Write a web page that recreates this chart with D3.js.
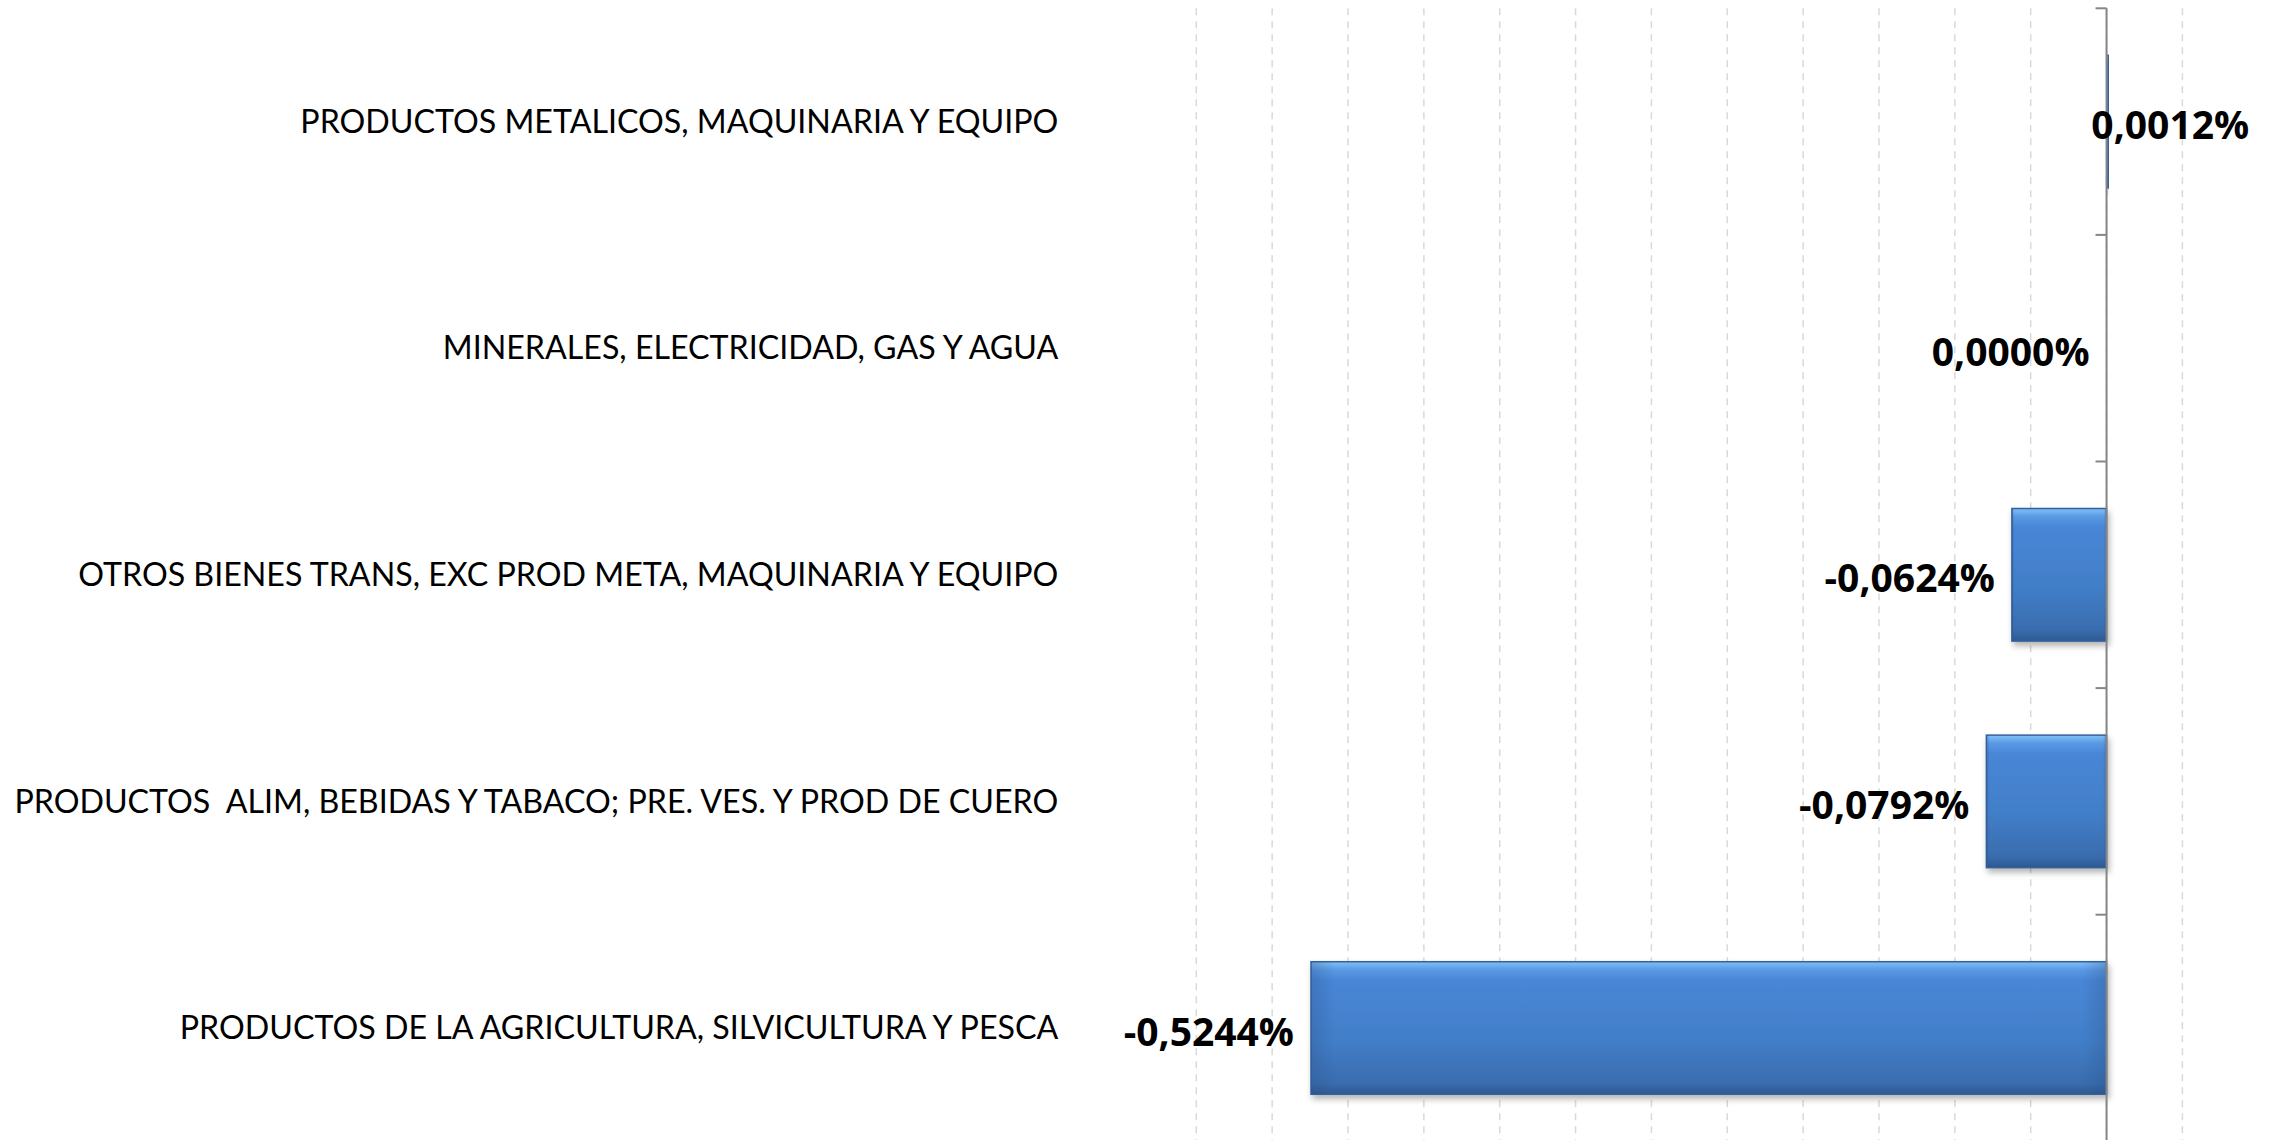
<!DOCTYPE html>
<html>
<head>
<meta charset="utf-8">
<script src="https://cdn.jsdelivr.net/npm/d3@7"></script>
<style>
  body { margin: 0; background: #fff; }
  svg { display: block; }
</style>
</head>
<body>
<svg width="2270" height="1140"></svg>
<script>
// categories top to bottom
var categories = [
    "PRODUCTOS METALICOS, MAQUINARIA Y EQUIPO",
    "MINERALES, ELECTRICIDAD, GAS Y AGUA",
    "OTROS BIENES TRANS, EXC PROD META, MAQUINARIA Y EQUIPO",
    "PRODUCTOS  ALIM, BEBIDAS Y TABACO; PRE. VES. Y PROD DE CUERO",
    "PRODUCTOS DE LA AGRICULTURA, SILVICULTURA Y PESCA"
];
var values = [0.0012, 0.0000, -0.0624, -0.0792, -0.5244];
var labels = ["0,0012%", "0,0000%", "-0,0624%", "-0,0792%", "-0,5244%"];
var x_domain = [-0.6, 0.05];
var x_step = 0.05;

var data = categories.map(function(c, i) {
    return {cat: c, value: values[i], label: labels[i]};
});

var svg = d3.select("svg");
var margin = {top: 8.3, right: 87.6, bottom: -1.3, left: 1196.3};
var width = svg.attr("width") - margin.left - margin.right;
var height = svg.attr("height") - margin.top - margin.bottom;

var defs = svg.append("defs");
var grad = defs.append("linearGradient")
    .attr("id", "barfill")
    .attr("x1", 0).attr("y1", 0).attr("x2", 0).attr("y2", 1);
grad.append("stop").attr("offset", "0%").attr("stop-color", "#82c0f8");
grad.append("stop").attr("offset", "6%").attr("stop-color", "#5a9ae4");
grad.append("stop").attr("offset", "14%").attr("stop-color", "#4886d6");
grad.append("stop").attr("offset", "60%").attr("stop-color", "#427ec8");
grad.append("stop").attr("offset", "92%").attr("stop-color", "#396cae");
grad.append("stop").attr("offset", "100%").attr("stop-color", "#2d5890");

var side = defs.append("linearGradient")
    .attr("id", "barside")
    .attr("x1", 0).attr("y1", 0).attr("x2", 1).attr("y2", 0);
side.append("stop").attr("offset", "0%").attr("stop-color", "#2a5088").attr("stop-opacity", 0.3);
side.append("stop").attr("offset", "3%").attr("stop-color", "#2a5088").attr("stop-opacity", 0);
side.append("stop").attr("offset", "97%").attr("stop-color", "#2a5088").attr("stop-opacity", 0);
side.append("stop").attr("offset", "100%").attr("stop-color", "#2a5088").attr("stop-opacity", 0.3);

var shadow = defs.append("filter").attr("id", "shadow")
    .attr("x", "-10%").attr("y", "-10%").attr("width", "130%").attr("height", "130%");
shadow.append("feDropShadow")
    .attr("dx", 2).attr("dy", 4).attr("stdDeviation", 3)
    .attr("flood-color", "#000").attr("flood-opacity", 0.3);

var g = svg.append("g").attr("transform", "translate(" + margin.left + "," + margin.top + ")");

var x = d3.scaleLinear().domain(x_domain).range([0, width]);
var y = d3.scaleBand().domain(categories).range([0, height])
    .paddingInner(0.415).paddingOuter(0.2075);

// dashed vertical gridlines
var ticks = d3.range(x_domain[0], x_domain[1] + x_step / 2, x_step);
g.append("g")
    .selectAll("line")
    .data(ticks)
    .enter()
    .append("line")
    .attr("x1", function(d) { return x(d); })
    .attr("x2", function(d) { return x(d); })
    .attr("y1", 0)
    .attr("y2", height)
    .style("stroke", "#d9d9d9")
    .style("stroke-width", 1.5)
    .style("stroke-dasharray", "7,6");

// bars
var bars = g.selectAll(".bar")
    .data(data)
    .enter()
    .append("g")
    .attr("class", "bar");

bars.append("rect")
    .attr("x", function(d) { return x(Math.min(0, d.value)); })
    .attr("y", function(d) { return y(d.cat); })
    .attr("width", function(d) { return Math.abs(x(d.value) - x(0)); })
    .attr("height", y.bandwidth())
    .attr("fill", "url(#barfill)")
    .attr("stroke", "#34609a")
    .attr("stroke-width", 1.5)
    .attr("filter", "url(#shadow)");

bars.filter(function(d) { return Math.abs(x(d.value) - x(0)) > 10; })
    .append("rect")
    .attr("x", function(d) { return x(Math.min(0, d.value)); })
    .attr("y", function(d) { return y(d.cat); })
    .attr("width", function(d) { return Math.abs(x(d.value) - x(0)); })
    .attr("height", y.bandwidth())
    .attr("fill", "url(#barside)");

// category axis on the zero line
g.append("g")
    .attr("transform", "translate(" + x(0) + ",0)")
    .call(function(sel) {
        sel.append("line")
            .attr("y1", 0).attr("y2", height)
            .style("stroke", "#868686").style("stroke-width", 2);
        sel.selectAll(".tk")
            .data(d3.range(categories.length + 1))
            .enter()
            .append("line")
            .attr("x1", -11).attr("x2", 0)
            .attr("y1", function(i) { return i * y.step(); })
            .attr("y2", function(i) { return i * y.step(); })
            .style("stroke", "#868686").style("stroke-width", 2);
    });

// category labels
g.append("g")
    .selectAll("text")
    .data(categories)
    .enter()
    .append("text")
    .attr("x", -138)
    .attr("y", function(d) { return y(d) + y.bandwidth() / 2; })
    .attr("dy", "0.35em")
    .attr("text-anchor", "end")
    .style("font", "32.2px Lato, sans-serif")
    .style("white-space", "pre")
    .style("fill", "#000")
    .text(function(d) { return d; });

// data labels
g.append("g")
    .selectAll("text")
    .data(data)
    .enter()
    .append("text")
    .attr("x", function(d) { return x(d.value) - 17; })
    .attr("y", function(d) { return y(d.cat) + y.bandwidth() / 2 + 4; })
    .attr("dy", "0.35em")
    .attr("text-anchor", function(d) { return d.value > 0 ? "start" : "end"; })
    .style("font", "bold 39px 'Open Sans', sans-serif")
    .style("fill", "#000")
    .text(function(d) { return d.label; });
</script>
</body>
</html>
